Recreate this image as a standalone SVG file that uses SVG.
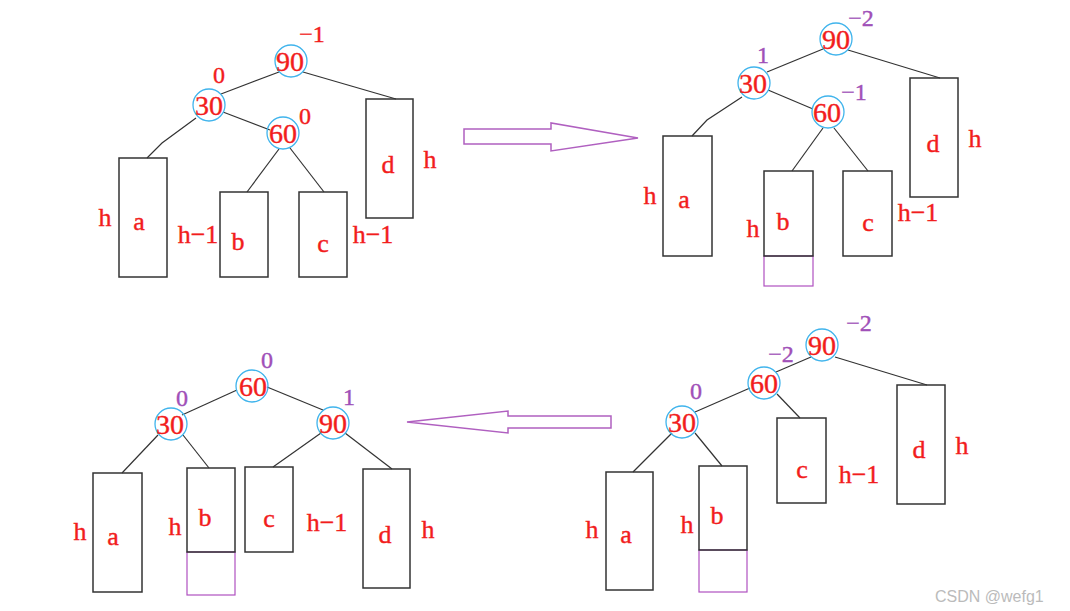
<svg xmlns="http://www.w3.org/2000/svg" width="1070" height="611" viewBox="0 0 1070 611">
<style>
.bg{fill:#fff}
.nd{fill:none;stroke:#40b4ec;stroke-width:1.3}
.num{font-family:"Liberation Serif",serif;font-size:28px;fill:#f21d1d;stroke:#f21d1d;stroke-width:0.4;text-anchor:middle}
.lbl{font-family:"Liberation Serif",serif;font-size:26px;fill:#f21d1d;stroke:#f21d1d;stroke-width:0.4;text-anchor:middle}
.bf{font-family:"Liberation Serif",serif;font-size:24px;stroke-width:0.4;text-anchor:middle}
.red{fill:#f21d1d;stroke:#f21d1d}
.pur{fill:#a050b8;stroke:#a050b8}
.box{fill:none;stroke:#333;stroke-width:1.5}
.pbox{fill:none;stroke:#b050c0;stroke-width:1.2}
.ln{stroke:#333;stroke-width:1.2;fill:none}
.arr{fill:#fff;stroke:#b060c0;stroke-width:1.5}
.wm{font-family:"Liberation Sans",sans-serif;font-size:16px;fill:#bbb}
</style>
<rect class="bg" x="0" y="0" width="1070" height="611"/>

<g id="connectors">
  <!-- Q1 -->
  <line class="ln" x1="279" y1="72" x2="221" y2="94"/>
  <line class="ln" x1="303" y1="72" x2="396" y2="99"/>
  <polyline class="ln" points="196,118 162,143 147,158"/>
  <line class="ln" x1="223" y1="112" x2="270" y2="130"/>
  <line class="ln" x1="279" y1="149" x2="247" y2="192"/>
  <line class="ln" x1="290" y1="148" x2="324" y2="192"/>
  <!-- Q2 -->
  <line class="ln" x1="823" y1="49" x2="767" y2="72"/>
  <line class="ln" x1="848" y1="50" x2="940" y2="78"/>
  <polyline class="ln" points="742,97 707,120 692,136"/>
  <line class="ln" x1="768" y1="90" x2="813" y2="109"/>
  <line class="ln" x1="823" y1="128" x2="792" y2="171"/>
  <line class="ln" x1="834" y1="128" x2="868" y2="171"/>
  <!-- Q3 -->
  <line class="ln" x1="237" y1="390" x2="182" y2="415"/>
  <line class="ln" x1="267" y1="387" x2="323" y2="410"/>
  <line class="ln" x1="158" y1="435" x2="122" y2="473"/>
  <line class="ln" x1="183" y1="435" x2="209" y2="468"/>
  <line class="ln" x1="321" y1="433" x2="273" y2="467"/>
  <line class="ln" x1="345" y1="433" x2="392" y2="469"/>
  <!-- Q4 -->
  <line class="ln" x1="811" y1="357" x2="776" y2="372"/>
  <line class="ln" x1="835" y1="357" x2="927" y2="385"/>
  <line class="ln" x1="750" y1="388" x2="695" y2="412"/>
  <line class="ln" x1="777" y1="394" x2="800" y2="418"/>
  <line class="ln" x1="672" y1="433" x2="633" y2="472"/>
  <line class="ln" x1="695" y1="433" x2="722" y2="466"/>
  <!-- transition arrows -->
  <polygon class="arr" points="464,129 551,129 551,123 638,138 551,151 551,144 464,144"/>
  <polygon class="arr" points="611,416 508,416 508,411 407,422 508,433 508,428 611,428"/>
</g>

<!-- ===== Q1 ===== -->
<g id="q1-n90"><circle class="nd" cx="291" cy="61" r="16"/><text class="num" x="290" y="71">90</text><text class="bf red" x="312" y="42">−1</text></g>
<g id="q1-n30"><circle class="nd" cx="209" cy="105" r="16"/><text class="num" x="209" y="115">30</text><text class="bf red" x="219" y="83">0</text></g>
<g id="q1-n60"><circle class="nd" cx="283" cy="133" r="16"/><text class="num" x="283" y="143">60</text><text class="bf red" x="305" y="124">0</text></g>
<g id="q1-a"><rect class="box" x="119" y="158" width="48" height="119"/><text class="lbl" x="139" y="230">a</text><text class="lbl" x="105" y="226">h</text></g>
<g id="q1-b"><rect class="box" x="220" y="192" width="48" height="85"/><text class="lbl" x="238" y="250">b</text><text class="lbl" x="198" y="243">h−1</text></g>
<g id="q1-c"><rect class="box" x="299" y="192" width="48" height="85"/><text class="lbl" x="323" y="252">c</text><text class="lbl" x="373" y="243">h−1</text></g>
<g id="q1-d"><rect class="box" x="366" y="99" width="47" height="119"/><text class="lbl" x="388" y="173">d</text><text class="lbl" x="430" y="168">h</text></g>

<!-- ===== Q2 ===== -->
<g id="q2-n90"><circle class="nd" cx="836" cy="39" r="16"/><text class="num" x="836" y="49">90</text><text class="bf pur" x="861" y="26">−2</text></g>
<g id="q2-n30"><circle class="nd" cx="754" cy="83" r="16"/><text class="num" x="753" y="93">30</text><text class="bf pur" x="763" y="63">1</text></g>
<g id="q2-n60"><circle class="nd" cx="828" cy="112" r="16"/><text class="num" x="827" y="122">60</text><text class="bf pur" x="854" y="100">−1</text></g>
<g id="q2-a"><rect class="box" x="663" y="136" width="49" height="120"/><text class="lbl" x="684" y="208">a</text><text class="lbl" x="650" y="204">h</text></g>
<g id="q2-b"><rect class="pbox" x="764" y="256" width="49" height="30"/><rect class="box" x="764" y="171" width="49" height="85"/><text class="lbl" x="783" y="230">b</text><text class="lbl" x="753" y="237">h</text></g>
<g id="q2-c"><rect class="box" x="843" y="171" width="49" height="85"/><text class="lbl" x="868" y="231">c</text><text class="lbl" x="918" y="221">h−1</text></g>
<g id="q2-d"><rect class="box" x="910" y="78" width="48" height="119"/><text class="lbl" x="933" y="152">d</text><text class="lbl" x="975" y="147">h</text></g>

<!-- ===== Q3 ===== -->
<g id="q3-n60"><circle class="nd" cx="252" cy="386" r="16"/><text class="num" x="253" y="396">60</text><text class="bf pur" x="267" y="368">0</text></g>
<g id="q3-n30"><circle class="nd" cx="171" cy="424" r="16"/><text class="num" x="170" y="434">30</text><text class="bf pur" x="182" y="406">0</text></g>
<g id="q3-n90"><circle class="nd" cx="333" cy="423" r="16"/><text class="num" x="333" y="433">90</text><text class="bf pur" x="349" y="405">1</text></g>
<g id="q3-a"><rect class="box" x="93" y="473" width="49" height="119"/><text class="lbl" x="113" y="545">a</text><text class="lbl" x="80" y="540">h</text></g>
<g id="q3-b"><rect class="pbox" x="187" y="552" width="48" height="43"/><rect class="box" x="187" y="468" width="48" height="84"/><text class="lbl" x="205" y="526">b</text><text class="lbl" x="175" y="535">h</text></g>
<g id="q3-c"><rect class="box" x="245" y="467" width="48" height="85"/><text class="lbl" x="269" y="527">c</text><text class="lbl" x="327" y="531">h−1</text></g>
<g id="q3-d"><rect class="box" x="363" y="469" width="47" height="119"/><text class="lbl" x="385" y="543">d</text><text class="lbl" x="428" y="538">h</text></g>

<!-- ===== Q4 ===== -->
<g id="q4-n90"><circle class="nd" cx="822" cy="345" r="16"/><text class="num" x="822" y="355">90</text><text class="bf pur" x="859" y="331">−2</text></g>
<g id="q4-n60"><circle class="nd" cx="764" cy="383" r="16"/><text class="num" x="764" y="393">60</text><text class="bf pur" x="781" y="362">−2</text></g>
<g id="q4-n30"><circle class="nd" cx="682" cy="422" r="16"/><text class="num" x="682" y="432">30</text><text class="bf pur" x="696" y="399">0</text></g>
<g id="q4-a"><rect class="box" x="606" y="472" width="47" height="118"/><text class="lbl" x="626" y="543">a</text><text class="lbl" x="592" y="538">h</text></g>
<g id="q4-b"><rect class="pbox" x="699" y="550" width="48" height="42"/><rect class="box" x="699" y="466" width="48" height="84"/><text class="lbl" x="717" y="524">b</text><text class="lbl" x="687" y="533">h</text></g>
<g id="q4-c"><rect class="box" x="777" y="418" width="49" height="85"/><text class="lbl" x="802" y="478">c</text><text class="lbl" x="859" y="483">h−1</text></g>
<g id="q4-d"><rect class="box" x="897" y="385" width="48" height="119"/><text class="lbl" x="919" y="458">d</text><text class="lbl" x="962" y="454">h</text></g>

<text class="wm" x="935" y="602">CSDN @wefg1</text>
</svg>
